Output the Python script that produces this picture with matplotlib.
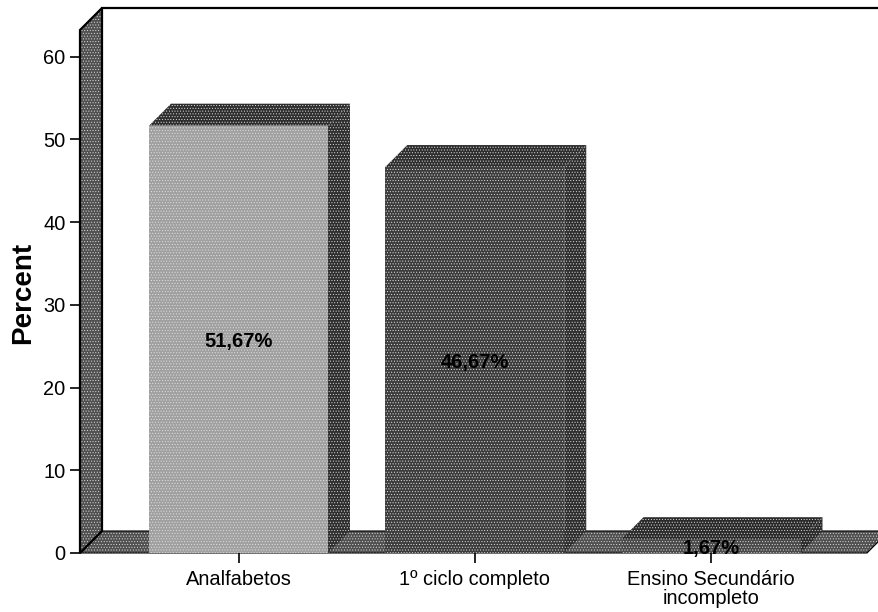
import matplotlib
matplotlib.use("Agg")
import matplotlib.pyplot as plt
from matplotlib.patches import Polygon

plt.rcParams['font.family'] = ['Liberation Sans', 'DejaVu Sans']
plt.rcParams['hatch.linewidth'] = 0.4

categories = ["Analfabetos", "1º ciclo completo", "Ensino Secundário\nincompleto"]
percent = [51.67, 46.67, 1.67]
value_labels = ["51,67%", "46,67%", "1,67%"]
y_ticks = [0, 10, 20, 30, 40, 50, 60]
front_colors = ["#a0a0a0", "#3c3c3c", "#4a4a4a"]
side_colors = ["#2e2e2e", "#2e2e2e", "#2a2a2a"]
wall_color = "#505050"

W, H = 879, 612
fig = plt.figure(figsize=(W / 100, H / 100), dpi=100, facecolor="white")
# pixel frame of the front plane
left, right, bottom, top = 80, 867, 553, 30
ax = fig.add_axes([left / W, 1 - bottom / H, (right - left) / W, (bottom - top) / H])
px_x = 236.25
px_y = 8.27
ax.set_xlim(-(238.5 - left) / px_x, (right - 238.5) / px_x)
ax.set_ylim(0, (bottom - top) / px_y)
xmin, xmax = ax.get_xlim()
ymin, ymax = ax.get_ylim()
dx, dy = 22 / px_x, 22 / px_y
bar_w = 179 / px_x


def face(pts, fc, hatch="......", z=2, outline=None):
    ax.add_patch(Polygon(pts, closed=True, facecolor=fc, edgecolor="#dddddd", hatch=hatch,
                         linewidth=0, clip_on=False, zorder=z))
    if outline:
        ax.add_patch(Polygon(pts, closed=True, fill=False, edgecolor="black",
                             linewidth=outline, clip_on=False, zorder=z + 0.1))


# left wall and floor of the 3D frame
face([(xmin, ymin), (xmin + dx, ymin + dy), (xmax + dx, ymin + dy), (xmax, ymin)],
     wall_color, outline=0.8)
face([(xmin, ymin), (xmin + dx, ymin + dy), (xmin + dx, ymax + dy), (xmin, ymax)],
     wall_color, outline=1.6)
# top edge of the back wall
ax.plot([xmin + dx, xmax + dx], [ymax + dy, ymax + dy], color="black", lw=1.6,
        clip_on=False, zorder=2.2)

# bars: side, top, then the front face
for i, (v, fc, sc) in enumerate(zip(percent, front_colors, side_colors)):
    x0, x1 = i - bar_w / 2, i + bar_w / 2
    face([(x1, 0), (x1 + dx, dy), (x1 + dx, v + dy), (x1, v)], sc, z=3)
    face([(x0, v), (x0 + dx, v + dy), (x1 + dx, v + dy), (x1, v)], sc, z=3)
    if v > 5:
        ax.bar(i, v, width=bar_w, color=fc, edgecolor="#e2e2e2", hatch="......",
               linewidth=0, zorder=4, clip_on=False)
    else:
        face([(x0, 0), (x1, 0), (x1, v), (x0, v)], fc, z=4)
    ax.annotate(value_labels[i], (i, v / 2), xytext=(0, -1.5), textcoords="offset points",
                ha="center", va="center", fontsize=14.5, fontweight="bold",
                color="black", zorder=5)

for s in ax.spines.values():
    s.set_visible(False)
ax.patch.set_visible(False)
ax.set_xticks(range(len(categories)))
ax.set_xticklabels(categories, fontsize=14.4, linespacing=1.0)
ax.set_yticks(y_ticks)
ax.tick_params(axis="x", length=7.5, width=1.2, pad=5)
ax.tick_params(axis="y", length=7.5, width=1.2, pad=3, labelsize=14.4)
ax.set_ylabel("Percent", fontsize=20, fontweight="bold", va="center", ha="center")
ax.yaxis.set_label_coords((23 - left) / (right - left), (bottom - 293) / (bottom - top))

fig.savefig("out.png", dpi=100, facecolor="white")
